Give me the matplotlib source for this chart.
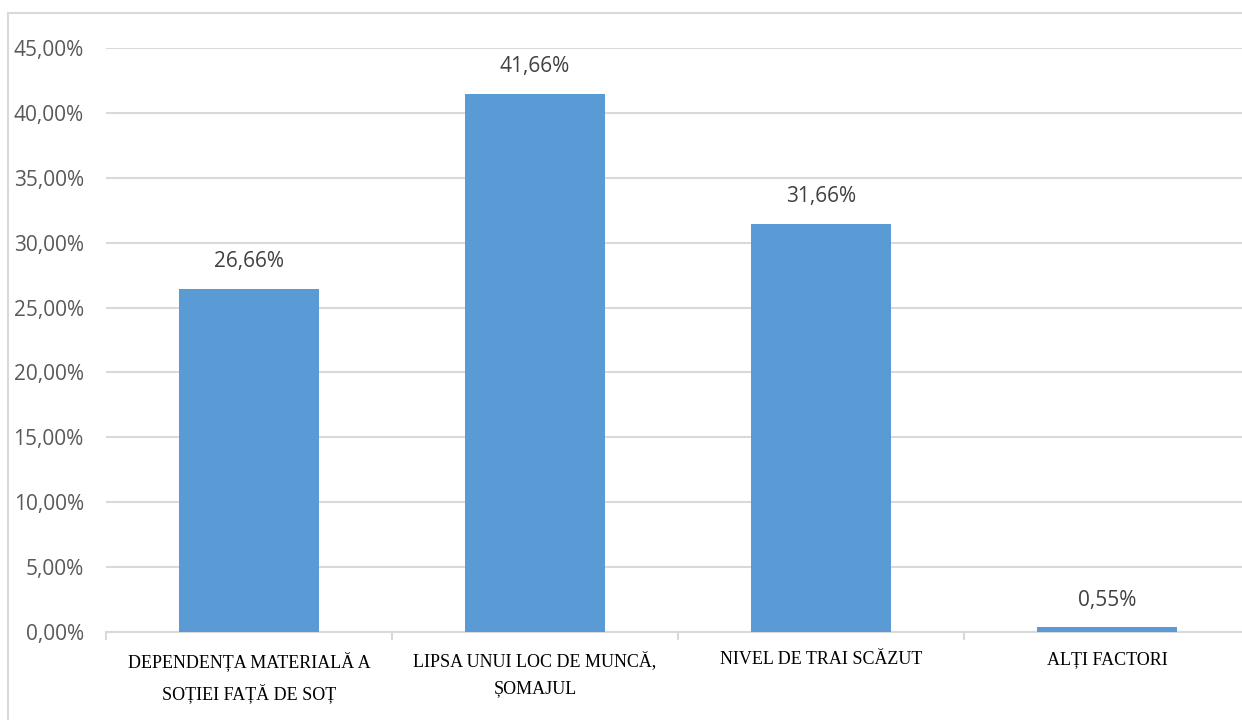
import numpy as np
import matplotlib
matplotlib.use("Agg")
import matplotlib.pyplot as plt
from matplotlib.patches import Rectangle

# Data
categories = ["DEPENDENȚA MATERIALĂ A\nSOȚIEI FAȚĂ DE SOȚ",
              "LIPSA UNUI LOC DE MUNCĂ,\nȘOMAJUL",
              "NIVEL DE TRAI SCĂZUT",
              "ALȚI FACTORI"]
bar_values = [26.45, 41.45, 31.45, 0.35]
value_labels = ["26,66%", "41,66%", "31,66%", "0,55%"]
y_ticks = [0, 5, 10, 15, 20, 25, 30, 35, 40, 45]

W, H = 1242, 720
fig = plt.figure(figsize=(W / 100, H / 100), dpi=100)
ax = fig.add_axes([106 / W, (H - 632) / H, (1250 - 106) / W, (632 - 48) / H])

# outer chart frame
fig.patches.append(Rectangle((8 / W, -0.1), 1.2, 1 - 13 / H + 0.1,
                             transform=fig.transFigure, fill=False,
                             edgecolor="#d9d9d9", lw=1.5, clip_on=False))

x = np.arange(len(categories))
ax.bar(x, bar_values, width=0.49, color="#5B9BD5", zorder=3)

for xi, v, lab in zip(x, bar_values, value_labels):
    ax.annotate(lab, (xi, v), xytext=(0, 19.5), textcoords="offset points",
                ha="center", va="center", fontsize=15, color="#404040",
                family="Open Sans")

ax.set_xlim(-0.5, 3.5)
ax.set_ylim(0, 45)
ax.set_yticks(y_ticks)
ax.set_yticklabels([f"{t:.2f}%".replace(".", ",") for t in y_ticks],
                   family="Open Sans", fontsize=15, color="#595959")
ax.yaxis.grid(True, color="#d9d9d9", lw=1.5, zorder=0)
ax.tick_params(axis="y", length=0, pad=16)

ax.set_xticks(x)
ax.set_xticklabels(categories, family="Liberation Serif", fontsize=13,
                   color="black", linespacing=1.75)
ax.set_xticks(np.arange(-0.5, 4, 1), minor=True)
ax.tick_params(axis="x", which="major", length=0, pad=14)
ax.tick_params(axis="x", which="minor", length=6, width=1.5, color="#d9d9d9")

for s in ["top", "right", "left"]:
    ax.spines[s].set_visible(False)
ax.spines["bottom"].set_color("#d9d9d9")
ax.spines["bottom"].set_linewidth(1.5)

fig.savefig("out.png", dpi=100)
